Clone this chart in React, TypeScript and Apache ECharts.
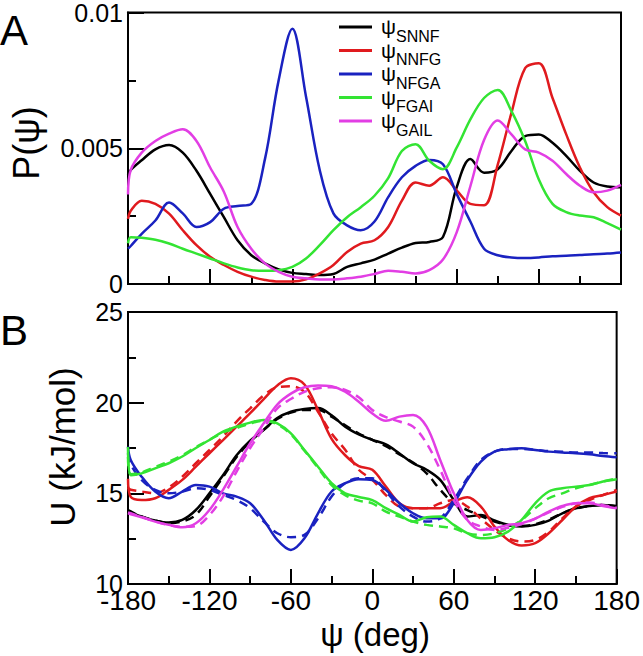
import React, { useEffect, useRef } from "react";
import * as echarts from "echarts";

// psi angle (deg)
const psiDeg = [-180, -178, -170, -160, -150, -140, -130, -120, -110, -100, -90, -80, -70, -60, -50, -40, -30, -20, -10, 0, 10, 20, 30, 40, 50, 60, 70, 80, 90, 100, 110, 120, 130, 140, 150, 160, 170, 180];

// Panel A: probability distributions P(psi)
const pSNNF = [0.0040, 0.0042, 0.00456, 0.00496, 0.00512, 0.00484, 0.00417, 0.00332, 0.00246, 0.00161, 0.00106, 0.00076, 0.00054, 0.00041, 0.00037, 0.00033, 0.00037, 0.00063, 0.00076, 0.00090, 0.00112, 0.00134, 0.00151, 0.00155, 0.00173, 0.00356, 0.00460, 0.00410, 0.00423, 0.00490, 0.00545, 0.00551, 0.00520, 0.00472, 0.00417, 0.00374, 0.00359, 0.00356];
const pNNFG = [0.0024, 0.0027, 0.00307, 0.00295, 0.00259, 0.00198, 0.00143, 0.0010, 0.0007, 0.00045, 0.00027, 0.00015, 0.00009, 0.00009, 0.00017, 0.00039, 0.0007, 0.00118, 0.00149, 0.00161, 0.0021, 0.00307, 0.00374, 0.00362, 0.00393, 0.00345, 0.00295, 0.00290, 0.00440, 0.00630, 0.00795, 0.00813, 0.00685, 0.00551, 0.00429, 0.00338, 0.00283, 0.00252];
const pNFGA = [0.0013, 0.0014, 0.00185, 0.00234, 0.0030, 0.0026, 0.0021, 0.00228, 0.00277, 0.00287, 0.00295, 0.0046, 0.0075, 0.0094, 0.0069, 0.0042, 0.0026, 0.00216, 0.00198, 0.0023, 0.0032, 0.00393, 0.00435, 0.00457, 0.00441, 0.00332, 0.0023, 0.0013, 0.00106, 0.00098, 0.00096, 0.00098, 0.00102, 0.00104, 0.00107, 0.0011, 0.00112, 0.00116];
const pFGAI = [0.0015, 0.00172, 0.0017, 0.00163, 0.00149, 0.0013, 0.00112, 0.00094, 0.00076, 0.00061, 0.00051, 0.00049, 0.00051, 0.00063, 0.00094, 0.00143, 0.00198, 0.00246, 0.00283, 0.00325, 0.0039, 0.0049, 0.00515, 0.00454, 0.00423, 0.00502, 0.00606, 0.00685, 0.00715, 0.00637, 0.00527, 0.00385, 0.00295, 0.00265, 0.00252, 0.00246, 0.00224, 0.0020];
const pGAIL = [0.0033, 0.0042, 0.00484, 0.00527, 0.00554, 0.0057, 0.00527, 0.00429, 0.0034, 0.0021, 0.0013, 0.00076, 0.00045, 0.00027, 0.00021, 0.00017, 0.00017, 0.00021, 0.00027, 0.00037, 0.00049, 0.00045, 0.00039, 0.00051, 0.0009, 0.0019, 0.0036, 0.0053, 0.00602, 0.00551, 0.00496, 0.00484, 0.00454, 0.00405, 0.00362, 0.00338, 0.00344, 0.00365];

// Panel B: potentials U (kJ/mol), solid = simulation, dashed = fit
const uSNNF = [14.0, 13.95, 13.72, 13.5, 13.39, 13.53, 14.08, 15.0, 16.0, 17.1, 17.9, 18.5, 19.15, 19.5, 19.65, 19.7, 19.3, 18.67, 18.25, 17.95, 17.7, 17.2, 16.66, 16.3, 15.74, 14.63, 13.72, 13.8, 13.5, 13.26, 13.17, 13.26, 13.5, 13.9, 14.18, 14.3, 14.36, 14.27];
const uSNNFfit = [14.08, 14.0, 13.72, 13.5, 13.36, 13.45, 13.81, 14.82, 15.9, 17.0, 17.85, 18.5, 19.1, 19.45, 19.6, 19.6, 19.23, 18.75, 18.3, 17.95, 17.6, 17.15, 16.7, 16.1, 15.2, 14.45, 14.08, 13.75, 13.45, 13.25, 13.2, 13.3, 13.55, 13.9, 14.15, 14.3, 14.35, 14.3];
const uNNFG = [15.8, 14.8, 14.63, 14.73, 15.19, 15.74, 16.47, 17.21, 17.94, 18.68, 19.42, 20.2, 20.95, 21.35, 21.0, 19.6, 18.0, 17.1, 16.5, 16.3, 15.37, 14.45, 14.18, 14.18, 14.18, 14.54, 14.78, 14.27, 13.17, 12.43, 12.12, 12.25, 12.8, 13.53, 14.27, 14.73, 14.91, 15.1];
const uNNFGfit = [15.3, 15.2, 15.1, 15.0, 15.33, 15.92, 16.66, 17.39, 18.13, 18.96, 19.69, 20.4, 20.85, 20.9, 20.6, 19.5, 18.3, 17.4, 16.3, 15.74, 14.9, 14.27, 14.18, 14.18, 14.45, 14.63, 14.27, 13.6, 12.98, 12.52, 12.34, 12.43, 12.89, 13.62, 14.27, 14.63, 14.91, 15.19];
const uNFGA = [17.58, 16.84, 15.92, 15.1, 14.73, 15.1, 15.46, 15.37, 15.0, 14.82, 14.45, 13.53, 12.43, 11.88, 12.52, 13.9, 15.1, 15.56, 15.78, 15.74, 15.19, 14.45, 13.9, 13.62, 13.62, 14.45, 15.74, 16.75, 17.3, 17.43, 17.48, 17.39, 17.3, 17.25, 17.21, 17.15, 17.06, 16.99];
const uNFGAfit = [17.2, 16.6, 15.74, 15.19, 15.0, 15.1, 15.28, 15.19, 14.91, 14.63, 14.18, 13.44, 12.8, 12.58, 12.71, 13.62, 14.82, 15.56, 15.83, 15.83, 15.1, 14.27, 13.72, 13.44, 13.62, 14.63, 15.83, 16.84, 17.3, 17.45, 17.45, 17.4, 17.33, 17.3, 17.25, 17.25, 17.22, 17.21];
const uFGAI = [17.55, 16.0, 16.1, 16.38, 16.66, 17.03, 17.5, 17.94, 18.4, 18.68, 18.9, 19.05, 18.86, 18.31, 17.39, 16.47, 15.56, 15.0, 14.8, 14.63, 14.18, 13.81, 13.44, 13.68, 13.72, 13.26, 12.8, 12.52, 12.58, 12.89, 13.53, 14.45, 15.1, 15.28, 15.37, 15.46, 15.65, 15.78];
const uFGAIfit = [17.0, 16.05, 16.15, 16.45, 16.75, 17.1, 17.55, 17.95, 18.35, 18.6, 18.85, 19.0, 18.8, 18.25, 17.35, 16.4, 15.45, 14.9, 14.6, 14.45, 13.99, 13.72, 13.44, 13.26, 13.17, 13.07, 12.8, 12.7, 12.8, 13.07, 13.53, 14.18, 14.73, 15.0, 15.28, 15.46, 15.65, 15.83];
const uGAIL = [13.9, 13.85, 13.68, 13.44, 13.26, 13.13, 13.35, 14.08, 15.19, 16.47, 17.76, 18.86, 19.9, 20.5, 20.85, 20.95, 20.9, 20.6, 20.05, 19.4, 19.0, 19.23, 19.32, 18.68, 16.84, 15.0, 13.53, 12.98, 13.07, 13.26, 13.35, 13.6, 13.99, 14.3, 14.45, 14.45, 14.3, 14.17];
const uGAILfit = [13.95, 13.9, 13.7, 13.45, 13.25, 13.15, 13.2, 13.8, 14.82, 16.2, 17.5, 18.59, 19.69, 20.2, 20.6, 20.8, 20.85, 20.7, 20.3, 19.6, 19.2, 18.96, 18.68, 17.76, 16.3, 14.63, 13.53, 13.17, 12.98, 13.1, 13.3, 13.6, 13.95, 14.25, 14.45, 14.5, 14.35, 14.2];

const names = ["SNNF", "NNFG", "NFGA", "FGAI", "GAIL"];
const colors = ["#000000", "#e01a1e", "#1a22c0", "#33e433", "#e23ee4"];
const pSets = [pSNNF, pNNFG, pNFGA, pFGAI, pGAIL];
const uSets = [uSNNF, uNNFG, uNFGA, uFGAI, uGAIL];
const uFitSets = [uSNNFfit, uNNFGfit, uNFGAfit, uFGAIfit, uGAILfit];

const xTickLabels = ["-180", "-120", "-60", "0", "60", "120", "180"];

const FONT = "'Liberation Sans', Arial, Helvetica, sans-serif";

function pairs(ys: number[]) {
  return psiDeg.map((x, i) => [x, ys[i]]);
}

export default function App() {
  const ref = useRef<HTMLDivElement>(null);
  useEffect(() => {
    const chart = echarts.init(ref.current!, null, { renderer: "svg" });

    const axisLine = { show: true, onZero: false, lineStyle: { color: "#000", width: 2 } };
    const xAxisBase = {
      type: "value",
      min: -180,
      max: 180,
      interval: 60,
      axisLine,
      axisTick: { show: true, inside: true, length: 15, lineStyle: { color: "#000", width: 2 } },
      minorTick: { show: true, splitNumber: 2, length: 8, lineStyle: { color: "#000", width: 2 } },
      splitLine: { show: false },
      minorSplitLine: { show: false },
    };
    const yAxisBase = {
      type: "value",
      axisLine,
      axisTick: { show: true, inside: true, length: 16, lineStyle: { color: "#000", width: 2 } },
      minorTick: { show: true, splitNumber: 2, length: 8, lineStyle: { color: "#000", width: 2 } },
      splitLine: { show: false },
      minorSplitLine: { show: false },
      axisLabel: { color: "#000", fontSize: 25, fontFamily: FONT, margin: 5, showMinLabel: true, showMaxLabel: true },
    };

    const series: any[] = [];
    names.forEach((n, i) => {
      series.push({
        name: n,
        type: "line",
        xAxisIndex: 0,
        yAxisIndex: 0,
        data: pairs(pSets[i]),
        smooth: 0.35,
        symbol: "none",
        lineStyle: { color: colors[i], width: 2.5 },
        itemStyle: { color: colors[i] },
        z: 3 + i,
      });
    });
    names.forEach((n, i) => {
      series.push({
        name: n,
        type: "line",
        xAxisIndex: 1,
        yAxisIndex: 1,
        data: pairs(uSets[i]),
        smooth: 0.35,
        symbol: "none",
        lineStyle: { color: colors[i], width: 2.5 },
        itemStyle: { color: colors[i] },
        z: 3 + i,
      });
      series.push({
        name: n + " fit",
        type: "line",
        xAxisIndex: 1,
        yAxisIndex: 1,
        data: pairs(uFitSets[i]),
        smooth: 0.35,
        symbol: "none",
        lineStyle: { color: colors[i], width: 2.5, type: [9, 6] },
        itemStyle: { color: colors[i] },
        z: 3 + i,
      });
    });

    chart.setOption({
      animation: false,
      backgroundColor: "#fff",
      textStyle: { fontFamily: FONT },
      grid: [
        { left: 128, top: 12, width: 493, height: 272, show: true, borderColor: "#000", borderWidth: 2, backgroundColor: "transparent" },
        { left: 128, top: 312, width: 493, height: 272, show: true, borderColor: "#000", borderWidth: 2, backgroundColor: "transparent" },
      ],
      xAxis: [
        { ...xAxisBase, gridIndex: 0, axisLabel: { show: false } },
        {
          ...xAxisBase,
          gridIndex: 1,
          axisLabel: {
            show: true,
            color: "#000",
            fontSize: 28,
            fontFamily: FONT,
            margin: 2,
            showMinLabel: true,
            showMaxLabel: true,
            formatter: (v: number) => xTickLabels[Math.round((v + 180) / 60)] ?? "",
          },
        },
      ],
      yAxis: [
        { ...yAxisBase, gridIndex: 0, min: 0, max: 0.01, interval: 0.005, axisLabel: { ...yAxisBase.axisLabel, formatter: (v: number) => (v === 0 ? "0" : String(+v.toFixed(3))) } },
        { ...yAxisBase, gridIndex: 1, min: 10, max: 25, interval: 5 },
      ],
      legend: {
        data: names,
        orient: "vertical",
        left: 334,
        top: 11,
        icon: "rect",
        itemWidth: 33,
        itemHeight: 3,
        itemGap: -4.5,
        selectedMode: false,
        formatter: (name: string) => `{p|ψ}{s|${name}}`,
        textStyle: {
          color: "#000",
          rich: {
            p: { fontSize: 21, fontFamily: FONT, lineHeight: 22, padding: [0, 0, 0, 4], verticalAlign: "top" },
            s: { fontSize: 16, fontFamily: FONT, lineHeight: 20, padding: [12, 0, 0, 0], verticalAlign: "top" },
          },
        },
      },
      graphic: [
        { type: "text", left: 0, top: 9, style: { text: "A", font: `42px ${FONT}`, fill: "#000" } },
        { type: "text", left: 0, top: 309, style: { text: "B", font: `42px ${FONT}`, fill: "#000" } },
        { type: "text", x: 26, y: 143, rotation: Math.PI / 2, style: { text: "P(ψ)", font: `36px ${FONT}`, fill: "#000", align: "center", verticalAlign: "middle" } },
        { type: "text", x: 62, y: 447, rotation: Math.PI / 2, style: { text: "U (kJ/mol)", font: `35px ${FONT}`, fill: "#000", align: "center", verticalAlign: "middle" } },
        { type: "text", x: 375, y: 634, style: { text: "ψ (deg)", font: `33px ${FONT}`, fill: "#000", align: "center", verticalAlign: "middle" } },
      ],
      series,
    });
    return () => chart.dispose();
  }, []);
  return <div ref={ref} style={{ position: "fixed", left: 0, top: 0, width: 643, height: 656 }} />;
}
